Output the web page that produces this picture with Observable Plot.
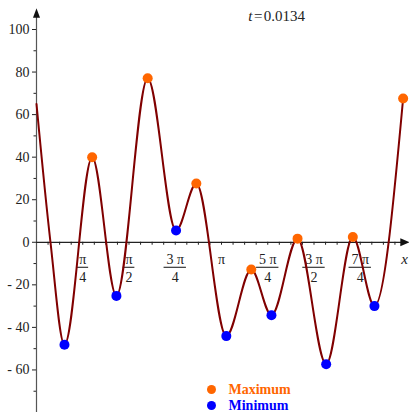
<!DOCTYPE html>
<html><head><meta charset="utf-8">
<script src="https://cdn.jsdelivr.net/npm/d3@7"></script>
<script src="https://cdn.jsdelivr.net/npm/@observablehq/plot@0.6"></script>
<style>
html,body{margin:0;padding:0;background:#fff;}
svg text{font-family:'Liberation Serif','Times New Roman',serif !important;}
</style>
</head><body><div id="chart"></div>
<script>
// ---- data ----
const titleParam = "t";
const titleValue = "=\u200a0.0134";
const maxX = [0.945, 1.888, 2.714, 3.647, 4.433, 5.372, 6.226];
const maxY = [40, 77.1, 27.6, -12.8, 1.7, 2.5, 67.6];
const minX = [0.475, 1.357, 2.37, 3.223, 3.99, 4.919, 5.739];
const minY = [-48.2, -25.2, 5.5, -44.1, -34.3, -57.3, -30];
const startX = [0, 0.2375];
const startY = [65, 0];
const yMajor = [-60, -40, -20, 0, 20, 40, 60, 80, 100];
const yMinor = [-70, -50, -30, -10, 10, 30, 50, 70, 90];
const xMajorK = [1, 2, 3, 4, 5, 6, 7]; // multiples of π/4
const xNum = ["π", "π", "3 π", "π", "5 π", "3 π", "7 π"];
const xDen = ["4", "2", "4", "", "4", "2", "4"];
const legendNames = ["Maximum", "Minimum"];

// ---- derived tables ----
const maxima = maxX.map((x, i) => ({x, y: maxY[i]}));
const minima = minX.map((x, i) => ({x, y: minY[i]}));
const start = startX.map((x, i) => ({x, y: startY[i]}));
const curve = [...start, ...maxima, ...minima].sort((a, b) => a.x - b.x);
const minorX = d3.range(1, 32).map(k => k * Math.PI / 16);
const labels = xMajorK.map((k, i) => ({x: k * Math.PI / 4, num: xNum[i], den: xDen[i]}));
const fracs = labels.filter(d => d.den);

const serif = "Liberation Serif, Times New Roman, serif";
const maxColor = "#ff6600", minColor = "#0000ff";
const upArrow = {draw(ctx) { ctx.moveTo(0, -4.7); ctx.lineTo(3.5, 4.7); ctx.lineTo(-3.5, 4.7); ctx.closePath(); }};
const rightArrow = {draw(ctx) { ctx.moveTo(4.7, 0); ctx.lineTo(-4.7, -4); ctx.lineTo(-4.7, 4); ctx.closePath(); }};
const halfBar = d => d.num.length > 1 ? 0.19 : 0.1;

const legendMarks = legendNames.flatMap((name, i) => {
  const color = i === 0 ? maxColor : minColor;
  const dy = i === 0 ? -23 : -7;
  return [
    Plot.dot([name], {frameAnchor: "bottom", dx: -10, dy, r: 4.5, fill: color}),
    Plot.text([name], {frameAnchor: "bottom", lineAnchor: "middle", dx: 7, dy, text: d => d, textAnchor: "start",
      fill: color, fontWeight: "bold", fontSize: 14, fontFamily: serif})
  ];
});

const plot = Plot.plot({
  width: 409, height: 412,
  marginLeft: 36, marginRight: 3, marginTop: 29, marginBottom: 0,
  x: {domain: [0, 2 * Math.PI], axis: null},
  y: {domain: [-80, 100], axis: null},
  style: {fontFamily: serif, fontSize: "14px", color: "#222", background: "#fff", overflow: "visible"},
  marks: [
    Plot.axisY({ticks: yMajor, tickSize: 4, tickPadding: 3, fontSize: 14, fontFamily: serif, label: null,
      tickFormat: d => d < 0 ? "- " + Math.abs(d) : String(d)}),
    Plot.axisY({ticks: yMinor, tickSize: 2.5, tickFormat: () => "", label: null}),
    Plot.ruleX([0], {stroke: "#555", strokeWidth: 1.2, insetTop: -12}),
    Plot.dot([0], {frameAnchor: "top-left", dy: -16.5, symbol: upArrow, fill: "#111", stroke: null}),
    Plot.ruleY([0], {stroke: "#222", strokeWidth: 1.2}),
    Plot.ruleX(minorX, {x: d => d, y1: 0, y2: -1.4, stroke: "#222"}),
    Plot.dot([0], {x: () => 2 * Math.PI, y: () => 0, dx: -1.5, symbol: rightArrow, fill: "#111", stroke: null}),
    Plot.text(labels, {x: "x", y: () => 0, text: "num", dy: 17, fontSize: 14, fontFamily: serif}),
    Plot.ruleY(fracs, {y: () => 0, x1: d => d.x - halfBar(d), x2: d => d.x + halfBar(d), dy: 25, stroke: "#111", strokeWidth: 1}),
    Plot.text(fracs, {x: "x", y: () => 0, text: "den", dy: 35, fontSize: 14, fontFamily: serif}),
    Plot.text(["x"], {x: () => 2 * Math.PI, y: () => 0, text: d => d, dx: -2, dy: 17, fontStyle: "italic", fontSize: 15, fontFamily: serif}),
    Plot.line(curve, {x: "x", y: "y", curve: "monotone-x", stroke: "#800000", strokeWidth: 2}),
    Plot.dot(maxima, {x: "x", y: "y", r: 5, fill: maxColor}),
    Plot.dot(minima, {x: "x", y: "y", r: 5, fill: minColor}),
    Plot.text([titleParam], {frameAnchor: "top", lineAnchor: "middle", dx: 31, dy: -13, text: d => d, textAnchor: "end", fontStyle: "italic", fontSize: 15, fontFamily: serif}),
    Plot.text([titleValue], {frameAnchor: "top", lineAnchor: "middle", dx: 32.5, dy: -13, text: d => d, textAnchor: "start", fontSize: 15, fontFamily: serif}),
    ...legendMarks
  ]
});
document.getElementById("chart").appendChild(plot);
</script>
</body></html>
